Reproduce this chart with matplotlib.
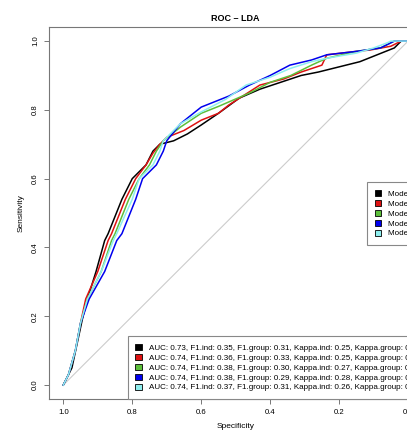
import matplotlib
matplotlib.use("Agg")
import matplotlib.pyplot as plt
from matplotlib.patches import Patch

plt.rcParams["font.family"] = ["Liberation Sans", "DejaVu Sans"]

# ROC points: (specificity, sensitivity)
spec_black = [1.0, 0.99, 0.975, 0.96, 0.945, 0.93, 0.905, 0.88, 0.87, 0.83, 0.80, 0.76, 0.74, 0.72,
              0.68, 0.64, 0.60, 0.55, 0.49, 0.43, 0.37, 0.31, 0.26, 0.20, 0.14, 0.07, 0.04, 0.02, 0.0]
sens_black = [0.0, 0.02, 0.05, 0.12, 0.19, 0.25, 0.33, 0.42, 0.44, 0.54, 0.60, 0.64, 0.68, 0.70,
              0.71, 0.73, 0.756, 0.79, 0.834, 0.86, 0.88, 0.90, 0.91, 0.925, 0.94, 0.968, 0.98, 1.0, 1.0]

spec_red = [1.0, 0.985, 0.965, 0.95, 0.935, 0.90, 0.87, 0.86, 0.82, 0.79, 0.76, 0.74, 0.72, 0.70,
            0.65, 0.60, 0.55, 0.52, 0.43, 0.36, 0.31, 0.25, 0.236, 0.15, 0.11, 0.05, 0.02, 0.0]
sens_red = [0.0, 0.03, 0.10, 0.18, 0.25, 0.33, 0.42, 0.44, 0.54, 0.60, 0.64, 0.674, 0.70, 0.72,
            0.74, 0.77, 0.79, 0.814, 0.872, 0.89, 0.91, 0.93, 0.96, 0.97, 0.974, 0.985, 1.0, 1.0]

spec_green = [1.0, 0.985, 0.965, 0.95, 0.93, 0.89, 0.86, 0.85, 0.81, 0.78, 0.75, 0.73, 0.71, 0.66,
              0.60, 0.55, 0.46, 0.40, 0.34, 0.28, 0.236, 0.15, 0.08, 0.04, 0.0]
sens_green = [0.0, 0.03, 0.10, 0.18, 0.25, 0.33, 0.42, 0.44, 0.54, 0.60, 0.64, 0.68, 0.71, 0.75,
              0.79, 0.81, 0.849, 0.88, 0.90, 0.93, 0.95, 0.97, 0.98, 1.0, 1.0]

spec_blue = [1.0, 0.985, 0.965, 0.95, 0.925, 0.88, 0.845, 0.83, 0.79, 0.77, 0.73, 0.71, 0.70, 0.66,
             0.60, 0.52, 0.46, 0.40, 0.343, 0.28, 0.236, 0.15, 0.08, 0.05, 0.04, 0.0]
sens_blue = [0.0, 0.03, 0.10, 0.18, 0.25, 0.33, 0.42, 0.44, 0.54, 0.60, 0.64, 0.68, 0.71, 0.76,
             0.808, 0.84, 0.872, 0.90, 0.93, 0.945, 0.96, 0.97, 0.98, 0.995, 1.0, 1.0]

spec_cyan = [1.0, 0.985, 0.965, 0.95, 0.93, 0.89, 0.855, 0.845, 0.80, 0.78, 0.74, 0.72, 0.71, 0.66,
             0.60, 0.53, 0.47, 0.40, 0.343, 0.28, 0.236, 0.15, 0.10, 0.06, 0.05, 0.0]
sens_cyan = [0.0, 0.03, 0.10, 0.18, 0.25, 0.33, 0.42, 0.44, 0.54, 0.60, 0.64, 0.68, 0.71, 0.76,
             0.794, 0.83, 0.872, 0.895, 0.92, 0.94, 0.95, 0.965, 0.98, 0.995, 1.0, 1.0]

model_names = ["Model 1", "Model 2", "Model 3", "Model 4", "Model 5"]
stats_labels = [
    "AUC: 0.73, F1.ind: 0.35, F1.group: 0.31, Kappa.ind: 0.25, Kappa.group: 0.21",
    "AUC: 0.74, F1.ind: 0.36, F1.group: 0.33, Kappa.ind: 0.25, Kappa.group: 0.23",
    "AUC: 0.74, F1.ind: 0.38, F1.group: 0.30, Kappa.ind: 0.27, Kappa.group: 0.20",
    "AUC: 0.74, F1.ind: 0.38, F1.group: 0.29, Kappa.ind: 0.28, Kappa.group: 0.19",
    "AUC: 0.74, F1.ind: 0.37, F1.group: 0.31, Kappa.ind: 0.26, Kappa.group: 0.21",
]
ticks = [0.0, 0.2, 0.4, 0.6, 0.8, 1.0]


def main():
    colors = ["#000000", "#dd1111", "#5cbf3a", "#0000ee", "#8eeeee"]
    curves = [(spec_black, sens_black), (spec_red, sens_red), (spec_green, sens_green),
              (spec_blue, sens_blue), (spec_cyan, sens_cyan)]

    fig = plt.figure(figsize=(4.07, 4.34), dpi=100)
    # the original is cropped on the right, so the axes run past the figure edge
    ax = fig.add_axes([0.1216, 0.0811, 0.915, 0.856])

    ax.plot([1, 0], [0, 1], color="#cccccc", lw=0.8)
    for (sp, se), c in zip(curves, colors):
        ax.plot(sp, se, color=c, lw=1.1)

    ax.set_xlim(1.04, -0.04)
    ax.set_ylim(-0.04, 1.04)
    ax.set_xticks(ticks)
    ax.set_yticks(ticks)
    ax.set_xticklabels([f"{t:.1f}" for t in ticks])
    ax.set_yticklabels([f"{t:.1f}" for t in ticks], rotation=90, va="center")
    ax.tick_params(direction="out", length=3.6, width=0.7, color="#777777",
                   labelsize=5.6, pad=4)
    for s in ax.spines.values():
        s.set_color("#777777")
        s.set_linewidth(0.8)

    ax.set_title("ROC \u2013 LDA", fontsize=6.5, fontweight="bold", pad=4.5)
    ax.set_xlabel("Specificity", fontsize=6, labelpad=5)
    ax.set_ylabel("Sensitivity", fontsize=6, labelpad=5)

    handles = [Patch(facecolor=c, edgecolor="black", linewidth=0.6) for c in colors]

    leg_style = dict(fontsize=5.75, fancybox=False, edgecolor="#888888", framealpha=1,
                     handlelength=0.8, handleheight=0.8, handletextpad=0.85,
                     labelspacing=0.26, borderpad=1.0, borderaxespad=0)

    leg1 = fig.legend(handles, model_names, loc="upper left",
                      bbox_to_anchor=(0.9017, 0.5806), **leg_style)
    leg1.get_frame().set_linewidth(0.8)

    leg2 = fig.legend(handles, stats_labels, loc="upper left",
                      bbox_to_anchor=(0.3133, 0.2258), **leg_style)
    leg2.get_frame().set_linewidth(0.8)

    fig.savefig("out.png", dpi=100)


main()
